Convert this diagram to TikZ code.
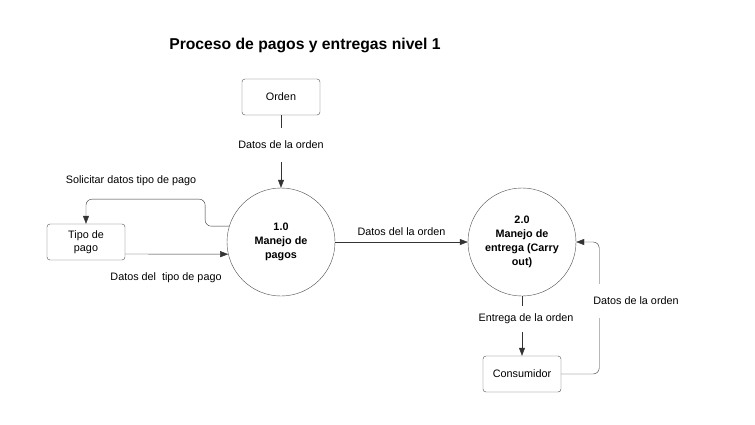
\documentclass[tikz,border=0pt]{standalone}
\usepackage{fontspec}
\setmainfont{Liberation Sans}
\usetikzlibrary{positioning,arrows.meta}

\begin{document}
\begin{tikzpicture}[x=1pt,y=-1pt,node distance=5mm and 7mm,
  font=\fontsize{10.8}{13}\selectfont,
  box/.style={draw=black!70,rounded corners=3pt,minimum width=78pt,minimum height=36pt,align=center},
  proc/.style={draw=black!70,circle,minimum size=108pt,inner sep=0pt,align=center,
    font=\fontsize{10.8}{14}\selectfont\bfseries},
  flow/.style={draw=black!80,-{Triangle[length=8pt,width=6pt]}},
  lbl/.style={fill=white,inner xsep=2pt}]
\useasboundingbox (0,0) rectangle (755,424);
\node (title) at (305,45) {\fontsize{15.7}{18}\selectfont\bfseries Proceso de pagos y entregas nivel 1};
\node[box] (orden) at (281,97) {Orden};
\node[proc] (c1) at (281,242) {1.0\\Manejo de\\pagos};
\node[proc] (c2) at (522,242) {2.0\\Manejo de\\entrega (Carry\\out)};
\node[box] (tipo) at (86,242) {Tipo de\\pago};
\node[box] (cons) at (522,374) {Consumidor};
% etiquetas
\node[lbl,inner ysep=13pt] (dord) at (281,145) {Datos de la orden};
\node[lbl,inner ysep=8pt] (entr) at (526,319) {Entrega de la orden};
\node (solic) at (131,181) {Solicitar datos tipo de pago};
\node (dtipo) at (166,278) {Datos del\ \ tipo de pago};
% flujos
\draw[draw=black!80] (orden) -- (dord);
\draw[flow] (dord) -- (c1);
\draw[flow,rounded corners=6pt] (c1.163) -| ++(-24,-27) -| (tipo.north);
\draw[flow] ([yshift=-12pt]tipo.east) -- (c1.193);
\draw[flow] (c1) -- node[above=3pt] (dlaord) {Datos del la orden} (c2);
\draw[draw=black!80] (c2.south) -- (c2.south |- entr.north);
\draw[flow] (c2.south |- entr.south) -- (cons);
\draw[flow,rounded corners=6pt] (cons.east) -- ++(38,0) |- (c2.east);
\node[lbl,inner ysep=13pt] (dord2) at (636,301) {Datos de la orden};
\end{tikzpicture}
\end{document}
